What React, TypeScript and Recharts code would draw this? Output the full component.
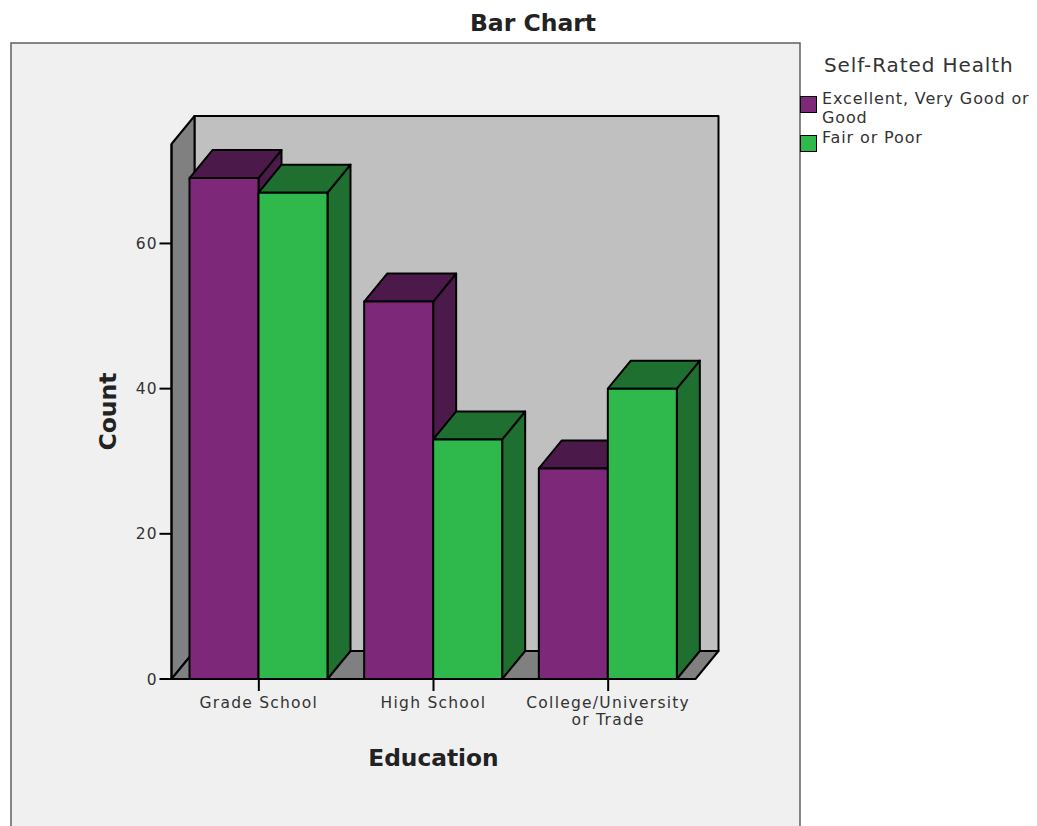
import React from "react";
import { BarChart, Bar, XAxis, YAxis, Legend, usePlotArea } from "recharts";

const FONT = "'DejaVu Sans', Verdana, sans-serif";
const INK = "#333333";

const categories = ["Grade School", "High School", "College/University or Trade"];
const categoryLines: Record<string, string[]> = {
  "College/University or Trade": ["College/University", "or Trade"],
};
const goodHealth = [69, 52, 29];
const poorHealth = [67, 33, 40];
const yTicks = [0, 20, 40, 60];
const legendTitle = "Self-Rated Health";
const goodLabel = ["Excellent, Very Good or", "Good"];
const poorLabel = ["Fair or Poor"];

const rows = categories.map((education, i) => ({
  education,
  good: goodHealth[i],
  poor: poorHealth[i],
}));

// Offset of the back plane relative to the front plane.
const DX = 23;
const DY = 28;
const EDGE = 2;

const GOOD = { front: "#7d2878", top: "#4c1a4a", side: "#4c1a4a" };
const POOR = { front: "#2fb84b", top: "#1e6f30", side: "#1e6f30" };

const pts = (list: number[][]) => list.map((p) => p.join(",")).join(" ");

function Box3D(props: any, tone: typeof GOOD) {
  const { x, y, width, height } = props;
  const r = x + width;
  const b = y + height;
  return (
    <g stroke="#000" strokeWidth={EDGE} strokeLinejoin="round">
      <polygon fill={tone.side} points={pts([[r, y], [r + DX, y - DY], [r + DX, b - DY], [r, b]])} />
      <polygon fill={tone.top} points={pts([[x, y], [x + DX, y - DY], [r + DX, y - DY], [r, y]])} />
      <rect x={x} y={y} width={width} height={height} fill={tone.front} />
    </g>
  );
}

// Outer panel, title and the three walls of the plot box.
function Stage() {
  const area = usePlotArea();
  if (!area) return null;
  const { x, y, width, height } = area;
  const r = x + width;
  const b = y + height;
  return (
    <g>
      <rect x={11} y={43} width={789} height={800} fill="#f0f0f0" stroke="#555" strokeWidth={1.4} />
      <text x={533} y={31} textAnchor="middle" fontFamily={FONT} fontWeight="bold" fontSize={23.5} fill="#222">
        Bar Chart
      </text>
      <g stroke="#000" strokeWidth={EDGE} strokeLinejoin="round">
        <rect x={x + DX} y={y - DY} width={width} height={height} fill="#c0c0c0" />
        <polygon fill="#808080" points={pts([[x, y], [x + DX, y - DY], [x + DX, b - DY], [x, b]])} />
        <polygon fill="#808080" points={pts([[x, b], [x + DX, b - DY], [r + DX, b - DY], [r, b]])} />
      </g>
    </g>
  );
}

function CategoryTick({ x, y, payload }: any) {
  const lines = categoryLines[payload.value] ?? [payload.value];
  return (
    <text x={x} y={y + 15} textAnchor="middle" fontFamily={FONT} fontSize={15.5} letterSpacing={1.25} fill={INK}>
      {lines.map((line, i) => (
        <tspan key={line} x={x} dy={i === 0 ? 0 : 17}>
          {line}
        </tspan>
      ))}
    </text>
  );
}

function LegendBlock() {
  const entry = (color: string, lines: string[], top: number) => (
    <div style={{ position: "absolute", left: 0, top, width: 237 }}>
      <div
        style={{
          position: "absolute",
          left: 0,
          top: 7,
          width: 15,
          height: 15,
          background: color,
          border: "1px solid #000",
        }}
      />
      <div
        style={{
          position: "absolute",
          left: 22,
          top: 0,
          fontSize: 16,
          letterSpacing: 0.87,
          lineHeight: "19px",
          color: INK,
          whiteSpace: "nowrap",
        }}
      >
        {lines.map((line) => (
          <div key={line}>{line}</div>
        ))}
      </div>
    </div>
  );
  return (
    <div style={{ position: "relative", width: 237, height: 110, fontFamily: FONT }}>
      <div style={{ position: "absolute", left: 24, top: 1, fontSize: 20, letterSpacing: 0.9, color: INK, whiteSpace: "nowrap" }}>
        {legendTitle}
      </div>
      {entry(GOOD.front, goodLabel, 37)}
      {entry(POOR.front, poorLabel, 76)}
    </div>
  );
}

export default function App() {
  return (
    <div style={{ position: "absolute", left: 0, top: 0, width: 1037, height: 826, overflow: "hidden", background: "#fff" }}>
      <BarChart
        width={1037}
        height={826}
        data={rows}
        margin={{ top: 144, right: 104.5, bottom: 0, left: 0 }}
        barCategoryGap={18}
        barGap={0}
      >
        <Stage />
        <XAxis
          dataKey="education"
          tick={<CategoryTick />}
          tickSize={12}
          interval={0}
          height={147}
          axisLine={{ stroke: "#000", strokeWidth: EDGE }}
          tickLine={{ stroke: "#000", strokeWidth: EDGE }}
          label={{ value: "Education", position: "insideTop", offset: 70, fontFamily: FONT, fontWeight: "bold", fontSize: 23.3, fill: "#222" }}
        />
        <YAxis
          domain={[0, 73.7]}
          ticks={yTicks}
          width={171.5}
          tickSize={12}
          axisLine={{ stroke: "#000", strokeWidth: EDGE }}
          tickLine={{ stroke: "#000", strokeWidth: EDGE }}
          tick={{ fontFamily: FONT, fontSize: 15.5, letterSpacing: 1, fill: INK }}
          label={{ value: "Count", angle: -90, position: "center", dx: 22, fontFamily: FONT, fontWeight: "bold", fontSize: 23.5, fill: "#222" }}
        />
        <Legend
          verticalAlign="top"
          align="right"
          layout="vertical"
          content={<LegendBlock />}
          wrapperStyle={{ left: 800, top: 52, width: 237 }}
        />
        <Bar dataKey="good" fill={GOOD.front} isAnimationActive={false} shape={(p: any) => Box3D(p, GOOD)} />
        <Bar dataKey="poor" fill={POOR.front} isAnimationActive={false} shape={(p: any) => Box3D(p, POOR)} />
      </BarChart>
    </div>
  );
}
